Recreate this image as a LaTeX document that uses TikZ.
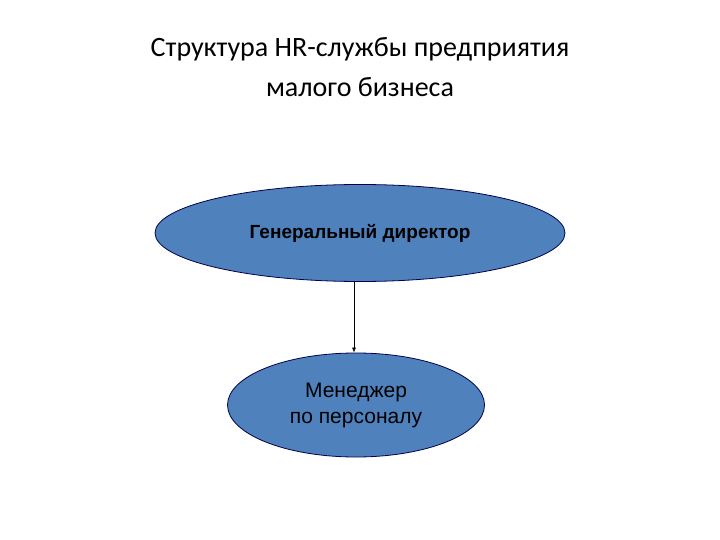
\documentclass[tikz,border=0pt]{standalone}
\usepackage{fontspec}
\setmainfont{Carlito}
\newfontfamily\arialf{Liberation Sans}
\usetikzlibrary{shapes.geometric,arrows.meta}
\begin{document}
\begin{tikzpicture}[x=1pt,y=-1pt,
  oval/.style={ellipse,draw=black!70!blue,line width=0.8pt,fill=blue!45!cyan!60!black!70!white,inner sep=0pt,font=\arialf,align=center}]
\useasboundingbox (0,0) rectangle (720,540);
\node[font=\fontsize{28}{40}\selectfont,align=center] (title) at (360,67) {Структура HR-службы предприятия\\малого бизнеса};
\node[oval,fill={rgb,255:red,79;green,129;blue,189},minimum width=410,minimum height=97,font=\arialf\bfseries\fontsize{19}{23}\selectfont] (gd) at (360,233) {Генеральный директор};
\node[oval,fill={rgb,255:red,79;green,129;blue,189},minimum width=257,minimum height=104,font=\arialf\fontsize{21}{26}\selectfont] (mp) at (356,405) {Менеджер\\ по персоналу};
\draw[-{Latex[length=5pt,width=4pt]},line width=0.6pt] (gd.south -| 354,0) -- (mp.north -| 354,0);
\end{tikzpicture}
\end{document}
